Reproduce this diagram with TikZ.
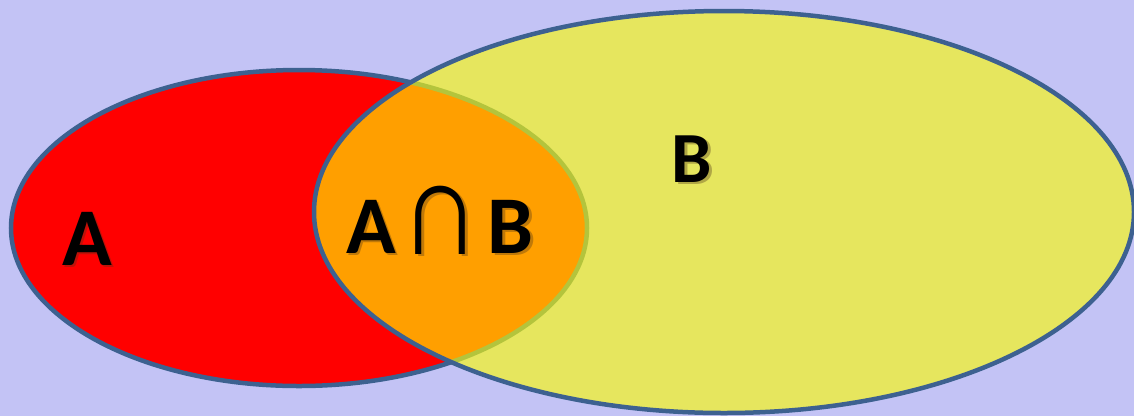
\documentclass[tikz,border=0pt]{standalone}
\usepackage{fontspec}
\setmainfont{Carlito}
\definecolor{bgcol}{HTML}{C3C3F5}
\definecolor{setA}{HTML}{FF0000}
\definecolor{setB}{HTML}{E6E65E}
\definecolor{both}{HTML}{FF9F00}
\definecolor{rim}{HTML}{3D6190}
\definecolor{rimin}{HTML}{B4C43C}
\newcommand{\capsym}{\raisebox{-1pt}{\scalebox{1.32}[1.6]{\mdseries ∩}}}
\newcommand{\bothtext}{A\kern7pt\capsym\kern9pt B}
\tikzset{
  lbl/.style={font=\bfseries, text=black, inner sep=0pt, anchor=base},
  shade/.style={lbl, text=black!60!brown, opacity=0.35}
}
\begin{document}
\begin{tikzpicture}[x=1pt, y=-1pt]
  \fill[bgcol] (0,0) rectangle (1134,416);
  \useasboundingbox (0,0) rectangle (1134,416);
  % set A
  \fill[setA] (299,228) ellipse [x radius=288, y radius=158];
  \draw[rim, line width=4.5pt] (299,228) ellipse [x radius=288, y radius=158];
  % set B
  \fill[setB] (724,212) ellipse [x radius=410, y radius=201];
  % intersection
  \begin{scope}
    \clip (299,228) ellipse [x radius=288, y radius=158];
    \fill[both] (724,212) ellipse [x radius=410, y radius=201];
  \end{scope}
  % rim of A seen inside B
  \begin{scope}
    \clip (724,212) ellipse [x radius=410, y radius=201];
    \draw[rimin, line width=4.5pt] (299,228) ellipse [x radius=288, y radius=158];
  \end{scope}
  \draw[rim, line width=4.5pt] (724,212) ellipse [x radius=410, y radius=201];
  % labels with soft shadow
  \node[shade, font=\bfseries\fontsize{82}{82}\selectfont] (a-sh) at (89.5,267.5) {A};
  \node[lbl, font=\bfseries\fontsize{82}{82}\selectfont] (a) at (87,265) {A};
  \node[shade, font=\bfseries\fontsize{72}{72}\selectfont] (b-sh) at (694.5,184.5) {B};
  \node[lbl, font=\bfseries\fontsize{72}{72}\selectfont] (b) at (692,182) {B};
  \node[shade, font=\bfseries\fontsize{82}{82}\selectfont] (ab-sh) at (442.5,255.5) {\bothtext};
  \node[lbl, font=\bfseries\fontsize{82}{82}\selectfont] (ab) at (440,253) {\bothtext};
\end{tikzpicture}
\end{document}
